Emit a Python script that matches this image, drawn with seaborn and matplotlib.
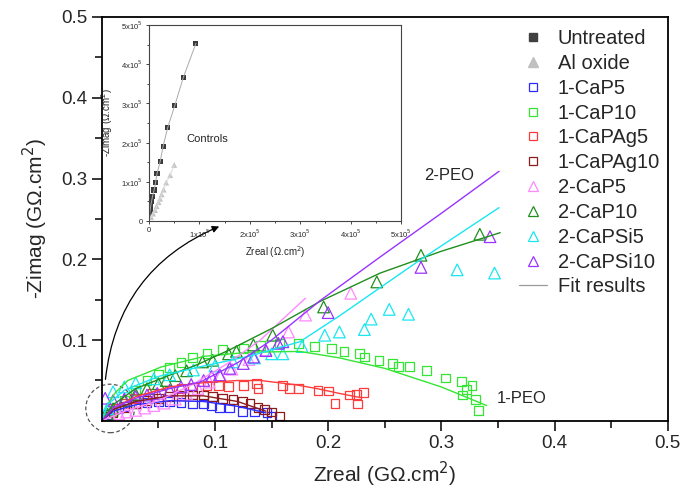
"""
Nyquist plot of the PEO coatings (1-PEO / 2-PEO) with fitted curves,
plus an inset with the untreated and Al oxide controls.
Output: out.png
"""

import numpy as np
import pandas as pd
import matplotlib
matplotlib.use("Agg")
import matplotlib.pyplot as plt
import seaborn as sns
from matplotlib.lines import Line2D
from matplotlib.patches import Ellipse

# ---- Controls (inset, ohm.cm2) ----
untreated_x = [0.008e5, 0.015e5, 0.025e5, 0.035e5, 0.05e5, 0.07e5, 0.10e5, 0.13e5,
               0.16e5, 0.22e5, 0.28e5, 0.37e5, 0.51e5, 0.68e5, 0.93e5]
untreated_y = [0.10e5, 0.20e5, 0.30e5, 0.40e5, 0.50e5, 0.63e5, 0.79e5, 0.98e5,
               1.22e5, 1.51e5, 1.91e5, 2.38e5, 2.94e5, 3.66e5, 4.53e5]
alox_x = [0.04e5, 0.08e5, 0.12e5, 0.15e5, 0.19e5, 0.22e5, 0.25e5, 0.29e5, 0.34e5, 0.42e5, 0.50e5]
alox_y = [0.10e5, 0.19e5, 0.28e5, 0.38e5, 0.48e5, 0.57e5, 0.68e5, 0.80e5, 0.98e5, 1.17e5, 1.43e5]

# ---- 1-PEO samples (G ohm.cm2) ----
cap5_1_x = [0.005, 0.01, 0.015, 0.02, 0.03, 0.04, 0.05, 0.06, 0.07, 0.08, 0.09, 0.097,
            0.104, 0.113, 0.124, 0.135, 0.146, 0.15]
cap5_1_y = [0.008, 0.012, 0.015, 0.018, 0.021, 0.023, 0.024, 0.024, 0.023, 0.022, 0.021, 0.019,
            0.017, 0.016, 0.012, 0.011, 0.010, 0.005]
cap5_1_fx = [0.0, 0.01, 0.03, 0.06, 0.09, 0.12, 0.145]
cap5_1_fy = [0.0, 0.012, 0.020, 0.025, 0.024, 0.018, 0.010]

cap10_1_x = [0.005, 0.01, 0.02, 0.03, 0.04, 0.05, 0.06, 0.07, 0.08, 0.093, 0.107, 0.125, 0.14,
             0.157, 0.174, 0.188, 0.203, 0.214, 0.228, 0.232, 0.245, 0.257, 0.262, 0.272, 0.287,
             0.304, 0.318, 0.327, 0.322, 0.319, 0.33, 0.333]
cap10_1_y = [0.005, 0.012, 0.025, 0.038, 0.050, 0.058, 0.066, 0.072, 0.078, 0.083, 0.088, 0.090,
             0.093, 0.096, 0.096, 0.092, 0.090, 0.086, 0.083, 0.079, 0.075, 0.071, 0.067, 0.067,
             0.062, 0.053, 0.049, 0.044, 0.039, 0.032, 0.026, 0.013]
cap10_1_fx = [0.0, 0.005, 0.012, 0.023, 0.053, 0.091, 0.13, 0.175, 0.21, 0.25, 0.3, 0.34]
cap10_1_fy = [0.0, 0.020, 0.035, 0.050, 0.067, 0.080, 0.085, 0.086, 0.078, 0.065, 0.042, 0.019]

capag5_1_x = [0.01, 0.02, 0.03, 0.045, 0.06, 0.07, 0.08, 0.093, 0.103, 0.112, 0.125, 0.137,
              0.138, 0.16, 0.166, 0.174, 0.191, 0.2, 0.206, 0.219, 0.225, 0.231, 0.226]
capag5_1_y = [0.015, 0.022, 0.028, 0.034, 0.038, 0.040, 0.042, 0.044, 0.044, 0.043, 0.044, 0.046,
              0.040, 0.044, 0.040, 0.040, 0.038, 0.037, 0.022, 0.032, 0.033, 0.035, 0.021]
capag5_1_fx = [0.0, 0.01, 0.03, 0.06, 0.087, 0.12, 0.14, 0.17, 0.19, 0.21, 0.228]
capag5_1_fy = [0.0, 0.016, 0.030, 0.042, 0.047, 0.050, 0.050, 0.045, 0.040, 0.034, 0.029]

capag10_1_x = [0.005, 0.01, 0.02, 0.03, 0.04, 0.05, 0.06, 0.07, 0.08, 0.09, 0.098, 0.107,
               0.116, 0.124, 0.131, 0.138, 0.144, 0.15, 0.157]
capag10_1_y = [0.006, 0.010, 0.016, 0.021, 0.025, 0.028, 0.030, 0.031, 0.032, 0.032, 0.030,
               0.028, 0.026, 0.024, 0.0215, 0.017, 0.014, 0.011, 0.006]
capag10_1_fx = [0.0, 0.01, 0.03, 0.06, 0.09, 0.12, 0.145]
capag10_1_fy = [0.0, 0.014, 0.024, 0.031, 0.031, 0.024, 0.012]

# ---- 2-PEO samples (G ohm.cm2) ----
cap5_2_x = [0.008, 0.015, 0.022, 0.03, 0.038, 0.046, 0.055, 0.065, 0.075, 0.085, 0.095, 0.105,
            0.115, 0.13, 0.145, 0.165, 0.18, 0.22]
cap5_2_y = [0.006, 0.009, 0.011, 0.013, 0.016, 0.019, 0.022, 0.027, 0.033, 0.040, 0.048, 0.056,
            0.064, 0.076, 0.088, 0.110, 0.131, 0.158]
cap5_2_fx = [0.0, 0.02, 0.05, 0.08, 0.11, 0.14, 0.18]
cap5_2_fy = [0.0, 0.012, 0.025, 0.045, 0.070, 0.100, 0.152]

cap10_2_x = [0.005, 0.01, 0.02, 0.03, 0.04, 0.05, 0.057, 0.065, 0.075, 0.089, 0.098, 0.112,
             0.119, 0.134, 0.151, 0.196, 0.243, 0.282, 0.334]
cap10_2_y = [0.008, 0.015, 0.025, 0.033, 0.040, 0.046, 0.050, 0.056, 0.062, 0.073, 0.075, 0.083,
             0.086, 0.094, 0.106, 0.141, 0.172, 0.205, 0.231]
cap10_2_fx = [0.0, 0.01, 0.03, 0.057, 0.085, 0.113, 0.151, 0.193, 0.246, 0.3, 0.352]
cap10_2_fy = [0.0, 0.020, 0.040, 0.055, 0.070, 0.088, 0.115, 0.148, 0.183, 0.210, 0.233]

capsi5_2_x = [0.005, 0.01, 0.02, 0.03, 0.046, 0.06, 0.081, 0.1, 0.116, 0.135, 0.15, 0.16,
              0.177, 0.197, 0.21, 0.232, 0.238, 0.254, 0.271, 0.314, 0.347]
capsi5_2_y = [0.015, 0.036, 0.042, 0.047, 0.052, 0.057, 0.063, 0.068, 0.073, 0.078, 0.083, 0.083,
              0.092, 0.106, 0.110, 0.113, 0.126, 0.138, 0.132, 0.187, 0.183]
capsi5_2_fx = [0.0, 0.005, 0.02, 0.05, 0.087, 0.13, 0.175, 0.21, 0.281, 0.351]
capsi5_2_fy = [0.0, 0.020, 0.038, 0.055, 0.067, 0.080, 0.098, 0.130, 0.199, 0.264]

capsi10_2_x = [0.003, 0.01, 0.02, 0.03, 0.04, 0.049, 0.06, 0.07, 0.079, 0.09, 0.097, 0.104,
               0.113, 0.125, 0.134, 0.145, 0.156, 0.16, 0.2, 0.282, 0.343]
capsi10_2_y = [0.028, 0.025, 0.027, 0.030, 0.032, 0.034, 0.038, 0.042, 0.045, 0.050, 0.055, 0.057,
               0.065, 0.071, 0.079, 0.087, 0.096, 0.098, 0.134, 0.190, 0.228]
capsi10_2_fx = [0.0, 0.01, 0.03, 0.06, 0.087, 0.12, 0.15, 0.193, 0.246, 0.3, 0.351]
capsi10_2_fy = [0.0, 0.016, 0.028, 0.040, 0.048, 0.072, 0.100, 0.149, 0.203, 0.257, 0.309]

# name, x, y, fit x, fit y, marker, colour
SERIES = [
    ("1-CaP5", cap5_1_x, cap5_1_y, cap5_1_fx, cap5_1_fy, "s", "#2b2bff"),
    ("1-CaP10", cap10_1_x, cap10_1_y, cap10_1_fx, cap10_1_fy, "s", "#33e633"),
    ("1-CaPAg5", capag5_1_x, capag5_1_y, capag5_1_fx, capag5_1_fy, "s", "#ff3b3b"),
    ("1-CaPAg10", capag10_1_x, capag10_1_y, capag10_1_fx, capag10_1_fy, "s", "#8b1c1c"),
    ("2-CaP5", cap5_2_x, cap5_2_y, cap5_2_fx, cap5_2_fy, "^", "#ff88ff"),
    ("2-CaP10", cap10_2_x, cap10_2_y, cap10_2_fx, cap10_2_fy, "^", "#1f8f1f"),
    ("2-CaPSi5", capsi5_2_x, capsi5_2_y, capsi5_2_fx, capsi5_2_fy, "^", "#19e6f0"),
    ("2-CaPSi10", capsi10_2_x, capsi10_2_y, capsi10_2_fx, capsi10_2_fy, "^", "#9933ff"),
]

sns.set_style("ticks")
plt.rcParams["font.family"] = ["Liberation Sans", "DejaVu Sans"]

fig = plt.figure(figsize=(6.97, 4.94), dpi=100)
ax = fig.add_axes([0.146, 0.148, 0.812, 0.8176])

# ---- fits first, markers on top ----
for name, x, y, fx, fy, marker, color in SERIES:
    sns.lineplot(x=fx, y=fy, ax=ax, color=color, lw=1.0, sort=False,
                 estimator=None, legend=False)
for name, x, y, fx, fy, marker, color in SERIES:
    size = 40 if marker == "s" else 70
    sns.scatterplot(x=x, y=y, ax=ax, marker=marker, s=size, facecolor="none",
                    edgecolor=color, linewidth=0.9, legend=False)

ax.set_xlim(0, 0.5)
ax.set_ylim(0, 0.5)
ax.set_xticks([0.1, 0.2, 0.3, 0.4, 0.5])
ax.set_yticks([0.1, 0.2, 0.3, 0.4, 0.5])
ax.set_xticks(np.arange(0.05, 0.5, 0.1), minor=True)
ax.set_yticks(np.arange(0.05, 0.5, 0.1), minor=True)
ax.set_xticklabels(["0.1", "0.2", "0.3", "0.4", "0.5"])
ax.set_yticklabels(["0.1", "0.2", "0.3", "0.4", "0.5"])
ax.tick_params(which="major", direction="out", length=7, width=1.3, labelsize=13.5)
ax.tick_params(which="minor", direction="out", length=5, width=1.3)
ax.tick_params(top=False, right=False)
for sp in ax.spines.values():
    sp.set_visible(True)
    sp.set_linewidth(1.3)
    sp.set_color("black")
ax.set_xlabel("Zreal (G\u03a9.cm$^2$)", fontsize=15, labelpad=5)
ax.set_ylabel("-Zimag (G\u03a9.cm$^2$)", fontsize=15, labelpad=8)

ax.text(0.285, 0.304, "2-PEO", fontsize=12, va="center", ha="left")
ax.text(0.349, 0.028, "1-PEO", fontsize=12, va="center", ha="left")

# dashed circle round the origin + arrow to the inset
ax.add_patch(Ellipse((0.0074, 0.0154), 0.043, 0.06, fill=False, ls=(0, (3, 2)),
                     lw=0.9, ec="#555555", clip_on=False))
ax.annotate("", xy=(0.106, 0.242), xytext=(0.003, 0.048),
            arrowprops=dict(arrowstyle="-|>", color="black", lw=0.9,
                            connectionstyle="arc3,rad=-0.3", mutation_scale=10))

# ---- legend ----
handles = [
    Line2D([], [], ls="none", marker="s", ms=6, mfc="#404040", mec="#404040"),
    Line2D([], [], ls="none", marker="^", ms=7, mfc="#c0c0c0", mec="#c0c0c0"),
]
labels = ["Untreated", "Al oxide"]
for name, x, y, fx, fy, marker, color in SERIES:
    handles.append(Line2D([], [], ls="none", marker=marker, ms=6 if marker == "s" else 7,
                          mfc="none", mec=color, mew=0.9))
    labels.append(name)
handles.append(Line2D([], [], color="#999999", lw=0.9))
labels.append("Fit results")
ax.legend(handles, labels, loc="upper left", bbox_to_anchor=(0.715, 1.0), frameon=False,
          fontsize=14.5, handlelength=1.4, handletextpad=0.55, labelspacing=0.29,
          borderaxespad=0.2)

# ---- inset with controls ----
ins = fig.add_axes([0.2138, 0.5526, 0.3616, 0.3968])
sns.lineplot(x=[0] + untreated_x, y=[0] + untreated_y, ax=ins, color="#aaaaaa", lw=0.7,
             sort=False, estimator=None, legend=False)
sns.lineplot(x=[0] + alox_x, y=[0] + alox_y, ax=ins, color="#dddddd", lw=0.7,
             sort=False, estimator=None, legend=False)
sns.scatterplot(x=untreated_x, y=untreated_y, ax=ins, marker="s", s=14, color="#3a3a3a",
                edgecolor="none", legend=False)
sns.scatterplot(x=alox_x, y=alox_y, ax=ins, marker="^", s=18, color="#c4c4c4",
                edgecolor="none", legend=False)
ins.set_xlim(0, 5e5)
ins.set_ylim(0, 5e5)
ticks = [0, 1e5, 2e5, 3e5, 4e5, 5e5]
tlabels = ["0"] + [f"{i}x10$^5$" for i in range(1, 6)]
ins.set_xticks(ticks)
ins.set_yticks(ticks)
ins.set_xticklabels(tlabels)
ins.set_yticklabels(tlabels)
ins.set_xticks(np.arange(0.5e5, 5e5, 1e5), minor=True)
ins.set_yticks(np.arange(0.5e5, 5e5, 1e5), minor=True)
ins.tick_params(which="major", direction="out", length=2.5, width=0.6, labelsize=5.5, pad=2)
ins.tick_params(which="minor", direction="out", length=1.5, width=0.6)
for sp in ins.spines.values():
    sp.set_visible(True)
    sp.set_linewidth(0.8)
    sp.set_color("#444444")
ins.set_xlabel("Zreal (\u03a9.cm$^2$)", fontsize=7, labelpad=3)
ins.set_ylabel("-Zimag (\u03a9.cm$^2$)", fontsize=7, labelpad=4.5)
ins.text(0.75e5, 2.1e5, "Controls", fontsize=8, va="center", ha="left")

fig.savefig("out.png", dpi=100)
plt.close(fig)
